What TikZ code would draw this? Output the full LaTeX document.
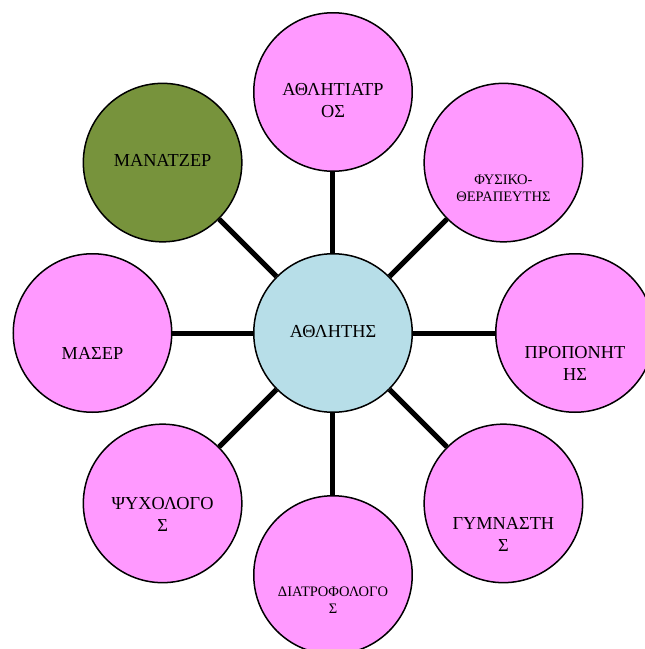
\documentclass[tikz,border=0pt]{standalone}
\usepackage{fontspec}
\setmainfont{Liberation Serif}
\usetikzlibrary{positioning}
\definecolor{rolepink}{HTML}{FF99FF}
\definecolor{athblue}{HTML}{B7DEE8}
\definecolor{mgrgreen}{HTML}{77933C}
\tikzset{
	role/.style={circle,draw=black,line width=1.5pt,fill=rolepink,minimum size=158.5pt,inner sep=0pt},
	bigtxt/.style={align=center,font=\fontsize{18.3}{22}\selectfont},
	smalltxt/.style={align=center,font=\fontsize{14.5}{17}\selectfont},
	link/.style={line width=5pt}
}

\begin{document}
\begin{tikzpicture}[x=1pt,y=1pt]
		\clip (-333,-316) rectangle (312,333);
		% circles
		\node[role,fill=athblue] (ath) at (0,0) {};
		\node[role] (doc) at (90:241) {};
		\node[role] (phys) at (45:241) {};
		\node[role] (coach) at (0:242) {};
		\node[role] (gym) at (-45:241) {};
		\node[role] (diet) at (-90:242) {};
		\node[role] (psy) at (-135:241) {};
		\node[role] (mas) at (180:240.5) {};
		\node[role,fill=mgrgreen] (mgr) at (135:241) {};
		% connectors
		\foreach \n in {doc,phys,coach,gym,diet,psy,mas,mgr}
		\draw[link] (ath) -- (\n);
		% texts
		\node[bigtxt] (tath) at ([yshift=1pt]ath.center) {ΑΘΛΗΤΗΣ};
		\node[bigtxt] (tdoc) at ([yshift=-8.5pt]doc.center) {ΑΘΛΗΤΙΑΤΡ\\ΟΣ};
		\node[smalltxt] (tphys) at ([yshift=-26pt]phys.center) {ΦΥΣΙΚΟ-\\ΘΕΡΑΠΕΥΤΗΣ};
		\node[bigtxt] (tcoach) at ([yshift=-30pt]coach.center) {ΠΡΟΠΟΝΗΤ\\ΗΣ};
		\node[bigtxt] (tgym) at ([yshift=-31pt]gym.center) {ΓΥΜΝΑΣΤΗ\\Σ};
		\node[smalltxt] (tdiet) at ([yshift=-25pt]diet.center) {ΔΙΑΤΡΟΦΟΛΟΓΟ\\Σ};
		\node[bigtxt] (tpsy) at ([yshift=-11pt]psy.center) {ΨΥΧΟΛΟΓΟ\\Σ};
		\node[bigtxt] (tmas) at ([yshift=-20pt]mas.center) {ΜΑΣΕΡ};
		\node[bigtxt] (tmgr) at ([yshift=2pt]mgr.center) {ΜΑΝΑΤΖΕΡ};
		\end{tikzpicture}
\end{document}
